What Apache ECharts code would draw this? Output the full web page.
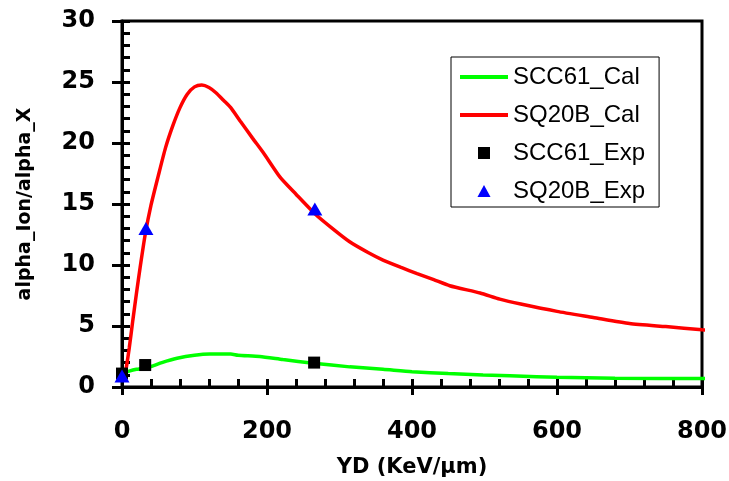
<!DOCTYPE html>
<html>
<head>
<meta charset="utf-8">
<script src="https://cdn.jsdelivr.net/npm/echarts@6/dist/echarts.min.js"></script>
<style>
html,body{margin:0;padding:0;background:#fff;}
#c{width:729px;height:481px;}
</style>
</head>
<body>
<div id="c"></div>
<script>
var seriesNames = ['SCC61_Cal', 'SQ20B_Cal', 'SCC61_Exp', 'SQ20B_Exp'];
var xTitle = 'YD (KeV/μm)';
var yTitle = 'alpha_Ion/alpha_X';

var scc61Cal = [[0,1.1],[10,1.3],[20,1.45],[30,1.55],[41,1.7],[55,2.0],[76,2.35],[100,2.6],[121,2.7],[150,2.7],[160,2.6],[190,2.5],[222,2.25],[264,1.95],[314,1.65],[360,1.45],[400,1.25],[450,1.1],[498,0.98],[572,0.85],[600,0.8],[680,0.72],[811,0.7]];
var sq20bCal = [[0,0.5],[5,1.3],[10,3.2],[15,5.5],[20,7.7],[25,9.8],[32,12.5],[40,14.9],[50,17.3],[60,19.6],[70,21.4],[80,22.9],[90,24.0],[100,24.6],[110,24.75],[120,24.55],[130,24.1],[140,23.5],[150,22.9],[163,21.8],[180,20.4],[195,19.2],[218,17.2],[240,15.8],[266,14.2],[290,13.0],[314,11.9],[340,11.0],[360,10.4],[385,9.8],[407,9.3],[430,8.8],[452,8.3],[494,7.7],[521,7.2],[550,6.8],[600,6.2],[650,5.7],[700,5.2],[750,4.95],[800,4.7],[811,4.65]];
var scc61Exp = [[0,1.1],[32,1.8],[265,2.0]];
var sq20bExp = [[0,0.9],[33,13.0],[266,14.6]];

var xMin = 0, xMax = 800, xStep = 200;
var yMin = 0, yMax = 30, yStep = 5;

var chart = echarts.init(document.getElementById('c'), null, {renderer: 'canvas'});
var tickFont = {fontFamily: 'DejaVu Sans', fontWeight: 'bold', fontSize: 24, color: '#000'};
var lineIcon = 'path://M0,0H48V4H0Z';

var option = {
  backgroundColor: '#fff',
  animation: false,
  grid: {left: 122, right: 27, top: 21, bottom: 94, show: true, borderColor: '#000', borderWidth: 3,
         backgroundColor: 'transparent', containLabel: false, outerBoundsMode: 'none'},
  legend: {
    orient: 'vertical', left: 451, top: 57,
    padding: [8, 14, 4, 9], itemGap: 14, itemWidth: 48, itemHeight: 12,
    borderColor: '#000', borderWidth: 1, backgroundColor: '#fff',
    symbolKeepAspect: true,
    textStyle: {fontFamily: 'Liberation Sans', fontSize: 24, color: '#000'},
    data: [
      {name: seriesNames[0], icon: lineIcon},
      {name: seriesNames[1], icon: lineIcon},
      {name: seriesNames[2], icon: 'path://M0,0H10V10H0Z'},
      {name: seriesNames[3], icon: 'path://M6,0L12,11L0,11Z'}
    ]
  },
  xAxis: [{
    type: 'value', min: xMin, max: xMax, interval: xStep, position: 'bottom',
    axisLine: {show: true, onZero: false, lineStyle: {color: '#000', width: 3}},
    axisTick: {show: true, length: 8, lineStyle: {color: '#000', width: 3}},
    axisLabel: Object.assign({margin: 33}, tickFont),
    splitLine: {show: false},
    name: xTitle, nameLocation: 'middle', nameGap: 70,
    nameTextStyle: {fontFamily: 'DejaVu Sans', fontWeight: 'bold', fontSize: 21, color: '#000'}
  }, {
    type: 'value', min: xMin, max: xMax, interval: xStep, position: 'bottom', offset: 0,
    axisLine: {show: false, onZero: false},
    axisTick: {show: true, inside: true, length: 8, lineStyle: {color: '#000', width: 3}},
    minorTick: {show: true, splitNumber: 5, length: 8, lineStyle: {color: '#000', width: 3}},
    axisLabel: {show: false}, splitLine: {show: false}, minorSplitLine: {show: false}
  }],
  yAxis: [{
    type: 'value', min: yMin, max: yMax, interval: yStep, position: 'left',
    axisLine: {show: true, onZero: false, lineStyle: {color: '#000', width: 3}},
    axisTick: {show: true, length: 10, lineStyle: {color: '#000', width: 3}},
    axisLabel: Object.assign({margin: 27}, tickFont),
    splitLine: {show: false},
    name: yTitle, nameLocation: 'middle', nameGap: 87, nameRotate: 90,
    nameTextStyle: {fontFamily: 'DejaVu Sans', fontWeight: 'bold', fontSize: 19, color: '#000'}
  }, {
    type: 'value', min: yMin, max: yMax, interval: yStep, position: 'left', offset: 0,
    axisLine: {show: false, onZero: false},
    axisTick: {show: true, inside: true, length: 8, lineStyle: {color: '#000', width: 3}},
    minorTick: {show: true, splitNumber: 5, length: 8, lineStyle: {color: '#000', width: 3}},
    axisLabel: {show: false}, splitLine: {show: false}, minorSplitLine: {show: false}
  }],
  series: [
    {name: seriesNames[0], type: 'line', data: scc61Cal, symbol: 'none', clip: false, z: 3, smooth: 0.2,
     lineStyle: {color: '#00ff00', width: 3.5}, itemStyle: {color: '#00ff00'}},
    {name: seriesNames[1], type: 'line', data: sq20bCal, symbol: 'none', clip: false, z: 3, smooth: 0.2,
     lineStyle: {color: '#ff0000', width: 3.5}, itemStyle: {color: '#ff0000'}},
    {name: seriesNames[2], type: 'scatter', data: scc61Exp, symbol: 'rect', symbolSize: 12, clip: false, z: 4,
     itemStyle: {color: '#000000', opacity: 1}},
    {name: seriesNames[3], type: 'scatter', data: sq20bExp, symbol: 'triangle', symbolSize: [15, 13], clip: false, z: 5,
     itemStyle: {color: '#0000ff', opacity: 1}}
  ]
};
chart.setOption(option);
</script>
</body>
</html>
